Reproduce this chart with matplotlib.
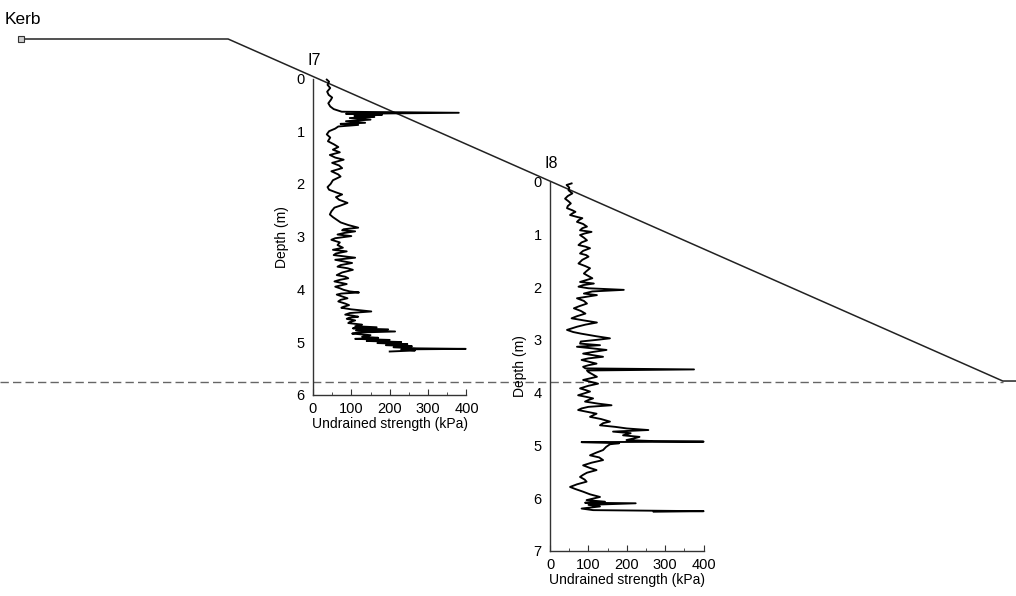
import matplotlib
matplotlib.use('Agg')
import matplotlib.pyplot as plt
from matplotlib.ticker import MultipleLocator

plt.rcParams['font.family'] = ['Liberation Sans', 'DejaVu Sans']

# ground section: chainage from kerb (m), depth below kerb (m)
ground_x = [0.0, 3.93, 18.63, 19.2]
ground_y = [0.0, 0.0, 6.49, 6.49]
base_depth = 6.51

# boreholes along the section
holes = ['I7', 'I8']
hole_x = [5.54, 10.04]
hole_top = [0.75, 2.71]
hole_depth = [6, 7]

# I7 profile
i7_depth = [0.02, 0.06, 0.12, 0.18, 0.25, 0.31, 0.36, 0.40, 0.47, 0.53,
            0.58, 0.63, 0.65, 0.67, 0.69, 0.71, 0.73, 0.75, 0.78, 0.81,
            0.84, 0.86, 0.88, 0.91, 0.95, 1.00, 1.06, 1.12, 1.19, 1.25,
            1.30, 1.35, 1.40, 1.45, 1.50, 1.54, 1.60, 1.65, 1.70, 1.76,
            1.82, 1.86, 1.93, 2.00, 2.06, 2.11, 2.16, 2.20, 2.25, 2.30,
            2.36, 2.41, 2.45, 2.52, 2.58, 2.63, 2.67, 2.73, 2.78, 2.83,
            2.86, 2.88, 2.90, 2.93, 2.96, 2.99, 3.03, 3.06, 3.11, 3.16,
            3.21, 3.25, 3.28, 3.32, 3.35, 3.40, 3.44, 3.47, 3.50, 3.54,
            3.57, 3.60, 3.63, 3.68, 3.73, 3.76, 3.79, 3.82, 3.85, 3.90,
            3.95, 3.98, 4.01, 4.04, 4.06, 4.08, 4.10, 4.14, 4.17, 4.20,
            4.23, 4.27, 4.30, 4.33, 4.35, 4.38, 4.42, 4.45, 4.48, 4.50,
            4.52, 4.54, 4.56, 4.59, 4.62, 4.64, 4.67, 4.70, 4.72, 4.74,
            4.76, 4.78, 4.80, 4.82, 4.84, 4.87, 4.90, 4.92, 4.94, 4.96,
            4.98, 5.00, 5.02, 5.04, 5.06, 5.08, 5.10, 5.12, 5.13, 5.14,
            5.16, 5.18]
i7_su = [36, 42, 38, 45, 37, 41, 50, 47, 40, 45,
         54, 75, 380, 86, 180, 108, 160, 96, 150, 86,
         136, 72, 118, 66, 58, 42, 36, 45, 39, 55,
         66, 52, 70, 44, 58, 80, 50, 68, 76, 48,
         66, 72, 52, 46, 38, 42, 60, 76, 60, 68,
         90, 72, 56, 48, 44, 52, 60, 72, 92, 118,
         80, 76, 110, 82, 64, 100, 58, 48, 70, 64,
         78, 52, 88, 60, 54, 110, 58, 80, 102, 72,
         64, 90, 104, 76, 62, 84, 92, 70, 56, 88,
         58, 70, 80, 96, 120, 74, 62, 78, 90, 72,
         66, 84, 94, 80, 74, 100, 152, 96, 84, 104,
         118, 94, 88, 110, 96, 92, 128, 110, 166, 104,
         196, 112, 214, 118, 102, 150, 128, 170, 110, 200,
         140, 230, 168, 246, 190, 258, 210, 270, 398, 230,
         266, 200]

# I8 profile
i8_depth = [0.03, 0.06, 0.11, 0.16, 0.22, 0.27, 0.32, 0.37, 0.41, 0.46,
            0.50, 0.54, 0.57, 0.60, 0.63, 0.67, 0.69, 0.73, 0.76, 0.80,
            0.85, 0.88, 0.92, 0.95, 0.98, 1.01, 1.06, 1.11, 1.15, 1.20,
            1.23, 1.26, 1.31, 1.36, 1.39, 1.42, 1.48, 1.55, 1.60, 1.64,
            1.70, 1.74, 1.79, 1.83, 1.87, 1.90, 1.93, 1.96, 1.99, 2.02,
            2.05, 2.08, 2.12, 2.15, 2.18, 2.21, 2.26, 2.31, 2.36, 2.40,
            2.45, 2.50, 2.55, 2.59, 2.63, 2.67, 2.71, 2.75, 2.81, 2.85,
            2.88, 2.93, 2.97, 3.00, 3.03, 3.07, 3.10, 3.13, 3.16, 3.19,
            3.23, 3.26, 3.30, 3.32, 3.35, 3.38, 3.42, 3.45, 3.48, 3.51,
            3.54, 3.56, 3.58, 3.61, 3.66, 3.70, 3.73, 3.76, 3.80, 3.83,
            3.87, 3.92, 3.95, 3.98, 4.02, 4.05, 4.08, 4.11, 4.14, 4.17,
            4.21, 4.24, 4.27, 4.30, 4.33, 4.37, 4.40, 4.43, 4.46, 4.50,
            4.55, 4.58, 4.62, 4.65, 4.68, 4.71, 4.74, 4.77, 4.81, 4.84,
            4.87, 4.90, 4.92, 4.93, 4.94, 4.96, 4.98, 5.03, 5.09, 5.14,
            5.19, 5.23, 5.28, 5.33, 5.38, 5.43, 5.47, 5.52, 5.56, 5.60,
            5.65, 5.69, 5.74, 5.79, 5.83, 5.88, 5.93, 5.98, 6.01, 6.04,
            6.07, 6.09, 6.10, 6.13, 6.16, 6.20, 6.23, 6.25, 6.26]
i8_su = [56, 43, 50, 48, 58, 46, 39, 48, 54, 46,
         44, 58, 66, 58, 52, 72, 84, 74, 70, 86,
         96, 84, 78, 108, 90, 78, 88, 96, 82, 74,
         92, 104, 86, 78, 94, 100, 84, 74, 92, 104,
         94, 88, 100, 110, 92, 78, 114, 86, 74, 100,
         192, 110, 88, 122, 96, 70, 88, 96, 76, 62,
         80, 92, 70, 56, 88, 122, 92, 70, 44, 60,
         80, 120, 156, 120, 80, 78, 130, 70, 110, 147,
         110, 86, 120, 138, 100, 82, 104, 121, 100, 86,
         92, 375, 96, 100, 112, 122, 104, 86, 108, 125,
         100, 78, 92, 104, 86, 73, 94, 112, 100, 91,
         126, 160, 100, 82, 73, 100, 121, 112, 104, 132,
         156, 138, 130, 170, 200, 256, 164, 210, 190, 233,
         218, 199, 270, 400, 82, 180, 156, 146, 138, 120,
         104, 128, 138, 108, 86, 104, 121, 96, 86, 78,
         90, 95, 70, 52, 66, 86, 104, 130, 112, 95,
         143, 91, 223, 100, 130, 82, 112, 400, 270]

profiles = [(i7_su, i7_depth), (i8_su, i8_depth)]

W, H = 1016, 596
px_per_m = 52.7
kerb_px = (21, 39)
profile_width_px = 153.5

fig = plt.figure(figsize=(W / 100, H / 100), dpi=100)

# background section drawn in metres
ax0 = fig.add_axes([0, 0, 1, 1])
ax0.set_xlim(-kerb_px[0] / px_per_m, (W - kerb_px[0]) / px_per_m)
ax0.set_ylim((H - kerb_px[1]) / px_per_m, -kerb_px[1] / px_per_m)
ax0.axis('off')

ax0.hlines(base_depth, ax0.get_xlim()[0], ground_x[2], colors='#666666',
           linestyles=(0, (6, 3)), lw=1)
ax0.plot(ground_x, ground_y, color='#222222', lw=1.1)
ax0.plot(ground_x[0], ground_y[0], marker='s', ms=4.5, mfc='#cccccc',
         mec='#333333', mew=0.8, ls='none')
ax0.annotate('Kerb', xy=(ground_x[0], ground_y[0]), xytext=(-11.5, 14),
             textcoords='offset points', fontsize=12.5, va='center', ha='left')

# one small axes per borehole, hung from the ground surface
for name, hx, htop, hdep, (su, dep) in zip(holes, hole_x, hole_top, hole_depth, profiles):
    left = (kerb_px[0] + hx * px_per_m) / W
    top = (kerb_px[1] + htop * px_per_m) / H
    height = hdep * px_per_m / H
    ax = fig.add_axes([left, 1 - top - height, profile_width_px / W, height])
    ax.patch.set_visible(False)

    ax.plot(su, dep, color='black', lw=1.35, clip_on=False)

    ax.set_xlim(0, 400)
    ax.set_ylim(hdep, 0)
    ax.xaxis.set_major_locator(MultipleLocator(100))
    ax.xaxis.set_minor_locator(MultipleLocator(50))
    ax.yaxis.set_major_locator(MultipleLocator(1))
    for s in ['top', 'right']:
        ax.spines[s].set_visible(False)
    for s in ['left', 'bottom']:
        ax.spines[s].set_color('#333333')
        ax.spines[s].set_linewidth(1)
    ax.tick_params(axis='x', which='major', direction='in', length=4, pad=5,
                   labelsize=10.5, color='#333333')
    ax.tick_params(axis='x', which='minor', direction='in', length=2, color='#333333')
    ax.tick_params(axis='y', length=0, pad=6, labelsize=10.5)
    ax.set_xlabel('Undrained strength (kPa)', fontsize=10, labelpad=1)
    ax.set_ylabel('Depth (m)', fontsize=10, labelpad=5)
    ax.annotate(name, xy=(0, 1), xycoords='axes fraction', xytext=(-4, 13),
                textcoords='offset points', fontsize=11.5, va='center', ha='left')

fig.savefig('out.png', dpi=100)
